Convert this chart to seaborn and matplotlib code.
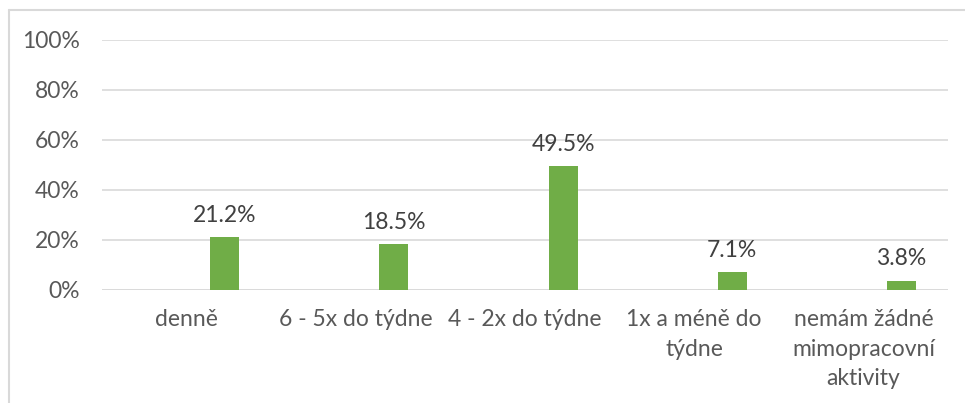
import matplotlib
matplotlib.use("Agg")
import matplotlib.pyplot as plt
import seaborn as sns
import pandas as pd
from matplotlib.lines import Line2D

categories = ["denně", "6 - 5x do týdne", "4 - 2x do týdne",
              "1x a méně do\ntýdne", "nemám žádné\nmimopracovní\naktivity"]
values = [21.2, 18.5, 49.5, 7.1, 3.8]
yticks = [0, 20, 40, 60, 80, 100]
ytick_labels = ["0%", "20%", "40%", "60%", "80%", "100%"]

sns.set_theme(style="white")
plt.rcParams['font.family'] = ['Lato', 'DejaVu Sans']

df = pd.DataFrame({
    "cat": categories * 2,
    "val": [0] * len(values) + values,
    "series": ["blank"] * len(values) + ["value"] * len(values),
})

fig = plt.figure(figsize=(9.65, 4.03), dpi=100)
ax = fig.add_axes([102 / 965, (403 - 290) / 403, (948 - 102) / 965, 250 / 403])

sns.barplot(data=df, x="cat", y="val", hue="series", hue_order=["blank", "value"],
            palette={"blank": "white", "value": "#70AD47"}, width=0.9, gap=0.62,
            order=categories, legend=False, ax=ax, linewidth=0, saturation=1)

ax.set_xlim(-0.5, len(categories) - 0.5)
ax.set_ylim(0, 100)
ax.set_yticks(yticks)
ax.set_yticklabels(ytick_labels)
ax.yaxis.grid(True, color="#D9D9D9", linewidth=1.2)
ax.set_axisbelow(True)
for s in ax.spines.values():
    s.set_visible(False)
ax.axhline(0, color="#D9D9D9", linewidth=1.2, zorder=0.5)
ax.set_xlabel("")
ax.set_ylabel("")
ax.tick_params(axis="y", length=0, pad=16, labelsize=16.5, labelcolor="#595959")
ax.tick_params(axis="x", length=0, pad=14, labelsize=16.5, labelcolor="#595959")
for t in ax.get_xticklabels():
    t.set_linespacing(1.5)

cont = ax.containers[1]
ax.bar_label(cont, labels=[f"{v:.1f}%" for v in values], padding=8,
             fontsize=16.5, color="#404040")

fig.add_artist(Line2D([9 / 965, 9 / 965], [0, 1 - 10 / 403], transform=fig.transFigure,
                      color="#D9D9D9", linewidth=1.5))
fig.add_artist(Line2D([9 / 965, 1], [1 - 10 / 403, 1 - 10 / 403], transform=fig.transFigure,
                      color="#D9D9D9", linewidth=1.5))

fig.savefig("out.png", dpi=100, facecolor="white")
